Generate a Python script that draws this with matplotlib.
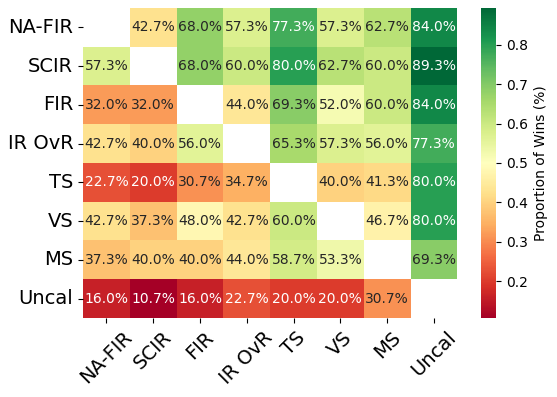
import numpy as np
import matplotlib
matplotlib.use("Agg")
import matplotlib.pyplot as plt
import seaborn as sns

labels = ["NA-FIR", "SCIR", "FIR", "IR OvR", "TS", "VS", "MS", "Uncal"]
nan = np.nan
row_nafir = [nan, 42.7, 68.0, 57.3, 77.3, 57.3, 62.7, 84.0]
row_scir = [57.3, nan, 68.0, 60.0, 80.0, 62.7, 60.0, 89.3]
row_fir = [32.0, 32.0, nan, 44.0, 69.3, 52.0, 60.0, 84.0]
row_irovr = [42.7, 40.0, 56.0, nan, 65.3, 57.3, 56.0, 77.3]
row_ts = [22.7, 20.0, 30.7, 34.7, nan, 40.0, 41.3, 80.0]
row_vs = [42.7, 37.3, 48.0, 42.7, 60.0, nan, 46.7, 80.0]
row_ms = [37.3, 40.0, 40.0, 44.0, 58.7, 53.3, nan, 69.3]
row_uncal = [16.0, 10.7, 16.0, 22.7, 20.0, 20.0, 30.7, nan]

data = np.array([row_nafir, row_scir, row_fir, row_irovr, row_ts, row_vs, row_ms, row_uncal]) / 100.0

fig = plt.figure(figsize=(5.57, 3.97), dpi=100)
ax = fig.add_axes([0.149, 0.199, 0.672, 0.781])
cax = fig.add_axes([0.864, 0.199, 0.027, 0.781])

sns.heatmap(data, ax=ax, cbar_ax=cax, cmap="RdYlGn", annot=True, fmt=".1%",
            xticklabels=labels, yticklabels=labels,
            annot_kws={"fontsize": 10},
            cbar_kws={"label": "Proportion of Wins (%)"})
ax.set_xticklabels(labels, rotation=45, fontsize=14)
ax.set_yticklabels(labels, rotation=0, fontsize=14)
cax.tick_params(labelsize=10)

fig.savefig("out.png", dpi=100)
